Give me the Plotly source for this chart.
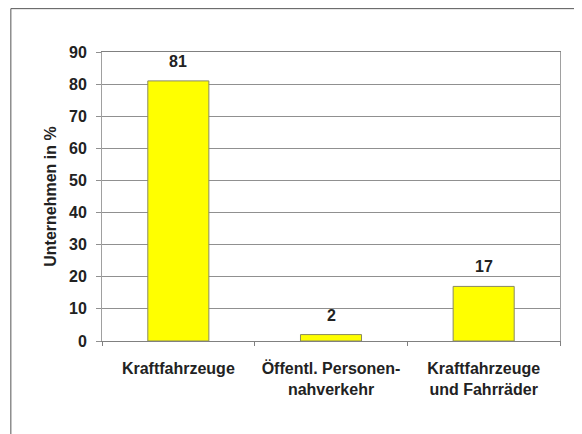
import plotly.graph_objects as go

categories = ["Kraftfahrzeuge", "Öffentl. Personen-<br>nahverkehr", "Kraftfahrzeuge<br>und Fahrräder"]
values = [81, 2, 17]
y_ticks = [0, 10, 20, 30, 40, 50, 60, 70, 80, 90]

font_main = "Liberation Sans, Arial, sans-serif"
text_color = "#222222"

fig = go.Figure()
fig.add_trace(go.Bar(
    x=categories,
    y=values,
    width=0.4,
    marker=dict(color="#FFFF00", line=dict(color="#8a8a60", width=1)),
))

# value labels sit a little higher above the bars than plotly's default outside text
for cat, val in zip(categories, values):
    fig.add_annotation(
        x=cat, y=val, text=str(val),
        showarrow=False, yanchor="bottom", yshift=9,
        font=dict(family=font_main, size=16, color=text_color, weight="bold"),
    )

fig.update_layout(
    width=574,
    height=426,
    paper_bgcolor="white",
    plot_bgcolor="white",
    margin=dict(l=94, r=22, t=44, b=93),
    font=dict(family=font_main, size=16, color=text_color),
    showlegend=False,
)

fig.update_xaxes(
    showline=True,
    linecolor="#808080",
    linewidth=1,
    mirror=True,
    ticks="outside",
    tickson="boundaries",
    ticklen=4,
    tickcolor="#808080",
    ticklabelstandoff=13,
    tickfont=dict(family=font_main, size=16, color=text_color, weight="bold"),
)

fig.update_yaxes(
    range=[0, 90],
    tickvals=y_ticks,
    showgrid=True,
    gridcolor="#909090",
    gridwidth=1,
    showline=True,
    linecolor="#a0a0a0",
    mirror=True,
    ticks="outside",
    ticklen=5,
    tickcolor="#909090",
    ticklabelstandoff=6,
    zeroline=False,
    tickfont=dict(family=font_main, size=16, color=text_color, weight="bold"),
    title=dict(text="Unternehmen in %", font=dict(family=font_main, size=16, color=text_color, weight="bold"), standoff=8),
)

# outer chart frame (only top and left edges fall inside the image)
fig.add_shape(
    type="rect", xref="paper", yref="paper",
    x0=-0.199, x1=1.6, y0=-0.6, y1=1.15,
    line=dict(color="#555555", width=1),
    layer="below",
)

fig.write_html("out.html")
